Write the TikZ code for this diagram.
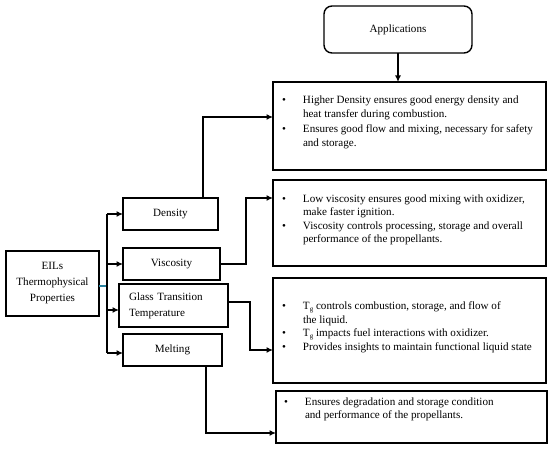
\documentclass[tikz,border=0pt]{standalone}
\usepackage{fontspec}
\setmainfont{Liberation Serif}
\usetikzlibrary{arrows.meta}
\newcommand{\bl}{\makebox[21pt][l]{\textbullet}}
\newcommand{\ind}{\hspace*{21pt}}
\newcommand{\lst}[2]{\fontsize{11.1}{#1}\selectfont\begin{tabular}[t]{@{}l@{}}#2\end{tabular}}
\begin{document}
\begin{tikzpicture}[x=1pt,y=-1pt,
  box/.style={draw, line width=1.4pt, inner sep=0pt, outer sep=0pt, align=center, font=\fontsize{11.1}{16}\selectfont},
  conn/.style={line width=1.3pt, line join=miter},
  arr/.style={conn, -{Latex[length=6.5pt,width=6pt]}},
  lsttext/.style={inner sep=0pt, outer sep=0pt, anchor=base west}]
\useasboundingbox (0,0) rectangle (550,449);
\definecolor{tealline}{RGB}{40,130,160}
% left column
\node[box, minimum width=93pt, minimum height=65pt] (eil) at (52.5,283.5) {EILs\\Thermophysical\\Properties};
\node[box, minimum width=95pt, minimum height=32pt] (dens) at (170.5,214) {Density};
\node[box, minimum width=97pt, minimum height=32pt] (visc) at (171.5,264) {Viscosity};
\node[box, minimum height=43pt, text width=89pt, inner xsep=10pt, align=left] (glass) at (173.5,305.5) {Glass Transition\\Temperature};
\node[box, minimum width=99pt, minimum height=32pt] (melt) at (172.5,350) {Melting};
% right column
\node[box, rounded corners=8pt, minimum width=148pt, minimum height=47pt] (app) at (398,29.5) {Applications};
\node[box, minimum width=273pt, minimum height=88pt] (b1) at (409.5,126) {};
\node[box, minimum width=273pt, minimum height=86pt] (b2) at (409.5,223) {};
\node[box, minimum width=273pt, minimum height=105pt] (b3) at (409.5,330.5) {};
\node[box, minimum width=271pt, minimum height=52pt] (b4) at (411.5,417) {};
% list texts
\node[lsttext] (t1) at (282,103.5) {\lst{14.3}{\bl Higher Density ensures good energy density and\\
\ind heat transfer during combustion.\\
\bl Ensures good flow and mixing, necessary for safety\\
\ind and storage.}};
\node[lsttext] (t2) at (282,202.5) {\lst{13.5}{\bl Low viscosity ensures good mixing with oxidizer,\\
\ind make faster ignition.\\
\bl Viscosity controls processing, storage and overall\\
\ind performance of the propellants.}};
\node[lsttext] (t3) at (282,310) {\lst{13.4}{\bl T{\fontsize{7}{8}\selectfont\raisebox{-1.5pt}{g}} controls combustion, storage, and flow of\\
\ind the liquid.\\
\bl T{\fontsize{7}{8}\selectfont\raisebox{-1.5pt}{g}} impacts fuel interactions with oxidizer.\\
\bl Provides insights to maintain functional liquid state}};
\node[lsttext] (t4) at (284,405.5) {\lst{13}{\bl Ensures degradation and storage condition\\
\ind and performance of the propellants.}};
% connectors
\coordinate (tj) at (107,286);
\coordinate (ttop) at (107,214);
\coordinate (tbot) at (107,353);
\coordinate (gy) at (107,310);
\coordinate (a1) at (273,117);
\coordinate (a2) at (273,198);
\coordinate (a3) at (273,350);
\coordinate (a4) at (276,433);
\draw[conn, tealline] (eil.east |- tj) -- (tj);
\draw[conn] (ttop) -- (tbot);
\draw[arr] (ttop) -- (dens.west);
\draw[arr] (visc.west -| ttop) -- (visc.west);
\draw[arr] (gy) -- (gy -| glass.west);
\draw[arr] (tbot) -- (tbot -| melt.west);
\draw[arr] (app.south) -- (app.south |- b1.north);
\draw[arr] ([xshift=32.5pt]dens.north) |- (a1);
\draw[arr] (visc.east) -- ++(26,0) |- (a2);
\draw[arr] ([yshift=3.5pt]glass.east) -- ++(22,0) |- (a3);
\draw[arr] ([xshift=33.5pt]melt.south) |- (a4);
\end{tikzpicture}
\end{document}
